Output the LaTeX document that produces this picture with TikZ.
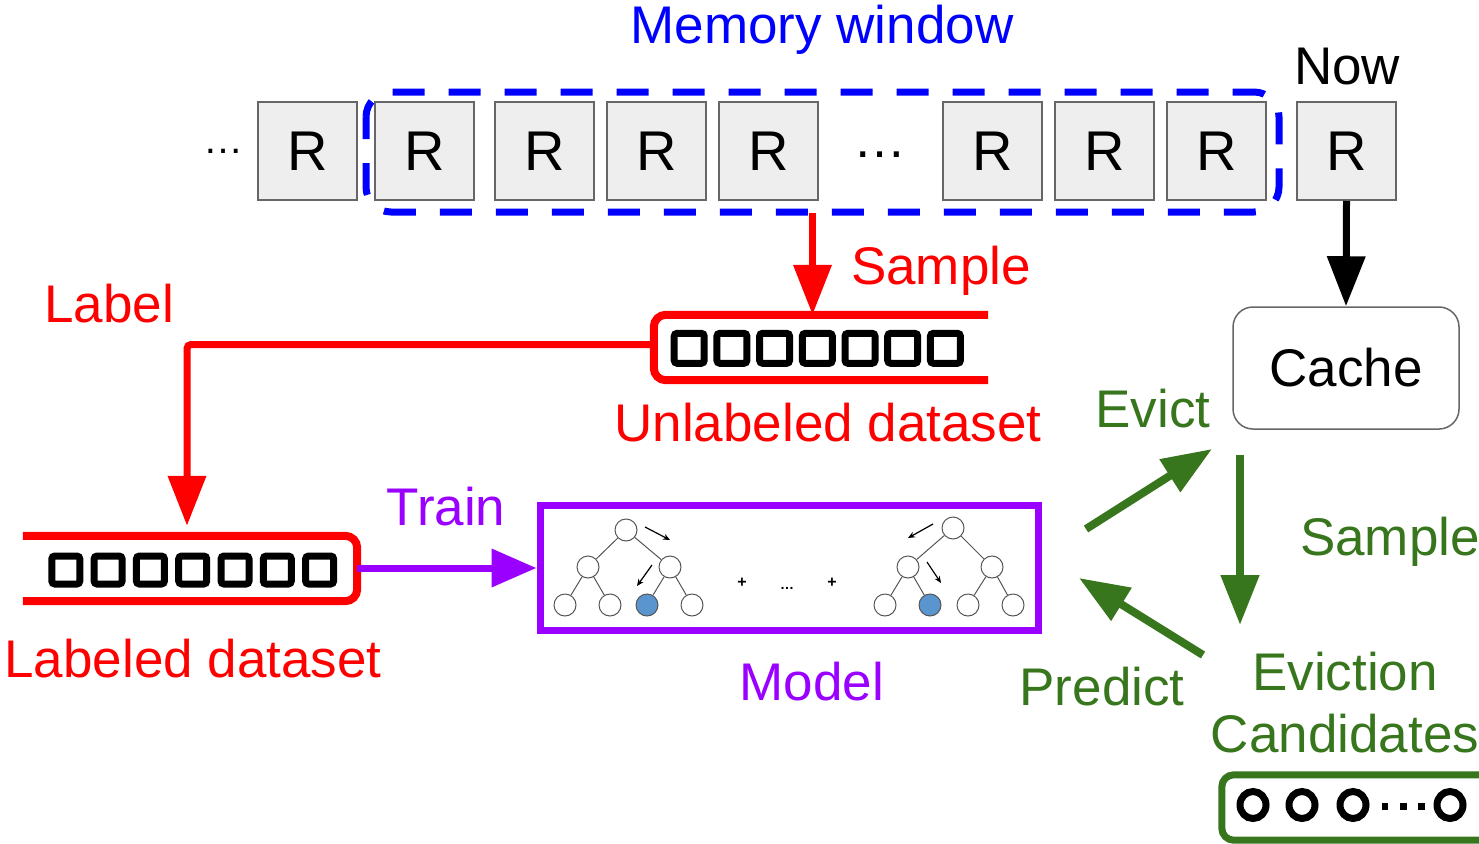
\documentclass[tikz,border=0pt]{standalone}
\usepackage{fontspec}
\setmainfont{Liberation Sans}
\usetikzlibrary{arrows.meta}
\definecolor{cred}{HTML}{FF0000}
\definecolor{cblue}{HTML}{0000FF}
\definecolor{cpurple}{HTML}{9900FF}
\definecolor{cgreen}{HTML}{38761D}
\definecolor{boxfill}{HTML}{EEEEEE}
\definecolor{boxline}{HTML}{666666}
\definecolor{treeline}{HTML}{555555}
\definecolor{leafblue}{HTML}{5B95CF}
\newcommand\myfs{\fontsize{53}{60}\selectfont}
\begin{document}
\begin{tikzpicture}[x=1pt,y=-1pt,
  rbox/.style={draw=boxline, fill=boxfill, line width=2pt, minimum width=99pt, minimum height=98pt, inner sep=0pt, font=\fontsize{56}{60}\selectfont},
  lbl/.style={anchor=base, inner sep=0pt, font=\myfs},
  bigarrow/.style={line width=7pt, -{Triangle[length=50pt,width=37pt]}},
  holder/.style={minimum width=334pt, minimum height=65pt, inner sep=0pt},
  sq/.style={line width=7pt, rounded corners=3pt},
  tnode/.style={circle, draw=treeline, line width=1pt, fill=white, minimum size=22pt, inner sep=0pt},
  tedge/.style={draw=treeline, line width=1pt},
  tarrow/.style={line width=1.2pt, -{Stealth[length=7pt,width=6pt]}},
]
\useasboundingbox (0,0) rectangle (1479,843);
\clip (0,0) rectangle (1479,843);

% ---- top row of requests
\node[anchor=center, font=\fontsize{40}{40}\selectfont] (dl) at (223,151) {…};
\node[rbox] (r0) at (307.5,151) {R};
\node[rbox] (r1) at (424.5,151) {R};
\node[rbox] (r2) at (544.5,151) {R};
\node[rbox] (r3) at (656.5,151) {R};
\node[rbox] (r4) at (768.5,151) {R};
\node[anchor=center, font=\myfs] (dm) at (880,155) {…};
\node[rbox] (r5) at (992.5,151) {R};
\node[rbox] (r6) at (1104.5,151) {R};
\node[rbox] (r7) at (1216.5,151) {R};
\node[rbox] (r8) at (1346.5,151) {R};

% memory window
\draw[cblue, line width=7pt, dash pattern=on 32pt off 24pt, dash phase=10pt, rounded corners=25pt]
  (366,92) rectangle (1279,212);
\node[lbl, text=cblue] (memlbl) at (822,44) {Memory window};
\node[lbl] (nowlbl) at (1347,84) {Now};

% ---- unlabeled dataset
\node[holder] (unl) at (821,347.5) {};
\draw[cred, line width=8pt, rounded corners=12pt]
  (unl.north east) -- (unl.north west) -- (unl.south west) -- (unl.south east);
\foreach \k in {0,...,6} {
  \draw[sq] ({689.2+\k*42.7-15},333.3) rectangle ({689.2+\k*42.7+15},363.3);
}
\node[lbl, text=cred] (unllbl) at (828,441) {Unlabeled dataset};

% sample arrow (red)
\coordinate (s1) at (812.5,213);
\draw[bigarrow, cred] (s1) -- (s1 |- unl.north);
\node[lbl, text=cred] (samplbl) at (941,284) {Sample};

% ---- labeled dataset
\node[holder] (lab) at (190,568.5) {};
\draw[cred, line width=8pt, rounded corners=12pt]
  (lab.north west) -- (lab.north east) -- (lab.south east) -- (lab.south west);
\foreach \k in {0,...,6} {
  \draw[sq] ({65.8+\k*42.3-14},556) rectangle ({65.8+\k*42.3+14},584);
}
\node[lbl, text=cred] (lablbl) at (193,677) {Labeled dataset};

% label arrow
\draw[bigarrow, cred, rounded corners=4pt, shorten >=10pt]
  ([yshift=3pt]unl.west) -| ([xshift=-3pt]lab.north);
\node[lbl, text=cred] (labellbl) at (109,322) {Label};

% ---- model
\node[draw=cpurple, line width=7pt, minimum width=498pt, minimum height=125pt, inner sep=0pt] (model) at (789,567.5) {};
\draw[cpurple, line width=7pt, -{Triangle[length=45pt,width=37pt]}] (lab.east |- 0,568) -- (model.west |- 0,568);
\node[lbl, text=cpurple] (trainlbl) at (446,525) {Train};
\node[lbl, text=cpurple] (modellbl) at (812,700) {Model};

% tree 1
\node[tnode] (ta) at (626,530) {};
\node[tnode] (tb) at (588,567) {};
\node[tnode] (tc) at (670,567) {};
\node[tnode] (td) at (565,605) {};
\node[tnode] (te) at (610,605) {};
\node[tnode, fill=leafblue] (tf) at (647,605) {};
\node[tnode] (tg) at (692,605) {};
\draw[tedge] (ta) -- (tb); \draw[tedge] (ta) -- (tc);
\draw[tedge] (tb) -- (td); \draw[tedge] (tb) -- (te);
\draw[tedge] (tc) -- (tf); \draw[tedge] (tc) -- (tg);
\coordinate (a1s) at (645,527); \coordinate (a1e) at (670,540);
\coordinate (a2s) at (652,565); \coordinate (a2e) at (637,586);
\draw[tarrow] (a1s) -- (a1e);
\draw[tarrow] (a2s) -- (a2e);

% tree 2
\node[tnode] (ua) at (953,528) {};
\node[tnode] (ub) at (908,567) {};
\node[tnode] (uc) at (992,567) {};
\node[tnode] (ud) at (885,605) {};
\node[tnode, fill=leafblue] (ue) at (930,605) {};
\node[tnode] (uf) at (968,605) {};
\node[tnode] (ug) at (1013,605) {};
\draw[tedge] (ua) -- (ub); \draw[tedge] (ua) -- (uc);
\draw[tedge] (ub) -- (ud); \draw[tedge] (ub) -- (ue);
\draw[tedge] (uc) -- (uf); \draw[tedge] (uc) -- (ug);
\coordinate (b1s) at (933,524); \coordinate (b1e) at (908,538);
\coordinate (b2s) at (927,562); \coordinate (b2e) at (941,583);
\draw[tarrow] (b1s) -- (b1e);
\draw[tarrow] (b2s) -- (b2e);

\node[font=\fontsize{16}{16}\selectfont\bfseries] (p1) at (742,583) {+};
\node[font=\fontsize{16}{16}\selectfont\bfseries] (p2) at (832,583) {+};
\node[font=\fontsize{14}{14}\selectfont\bfseries] (pd) at (787,588) {…};

% ---- cache
\node[draw=boxline, line width=1.5pt, rounded corners=20pt, minimum width=226pt, minimum height=122pt, inner sep=0pt, font=\myfs] (cache) at (1346,368) {Cache};
\draw[bigarrow, black] (r8.south) -- (cache.north);

% ---- green cycle
\coordinate (ev1) at (1086,529); \coordinate (ev2) at (1212,449);
\coordinate (sm1) at (1240,455); \coordinate (sm2) at (1240,625);
\coordinate (pr1) at (1203,655); \coordinate (pr2) at (1079,578);
\draw[cgreen, line width=8pt, -{Triangle[length=50pt,width=37pt]}] (ev1) -- (ev2);
\draw[cgreen, line width=8pt, -{Triangle[length=50pt,width=37pt]}] (sm1) -- (sm2);
\draw[cgreen, line width=8pt, -{Triangle[length=50pt,width=37pt]}] (pr1) -- (pr2);
\node[lbl, text=cgreen] (evlbl) at (1153,427) {Evict};
\node[lbl, text=cgreen] (smlbl) at (1390,555) {Sample};
\node[lbl, text=cgreen] (prlbl) at (1102,705) {Predict};
\node[lbl, text=cgreen] (ecl1) at (1345,690) {Eviction};
\node[lbl, text=cgreen] (ecl2) at (1345,752) {Candidates};

% candidates box
\node[minimum width=280pt, minimum height=65pt, inner sep=0pt] (cand) at (1362,807.5) {};
\draw[cgreen, line width=7pt, rounded corners=12pt] (cand.north west) rectangle (cand.south east);
\foreach \cx in {1253,1302,1353,1450} {
  \draw[line width=7pt] (\cx,805) ellipse [x radius=13pt, y radius=13.5pt];
}
\foreach \cx in {1385,1403.3,1421.7} {
  \fill (\cx-3.3,803.4) rectangle (\cx+3.3,810);
}
\end{tikzpicture}
\end{document}
